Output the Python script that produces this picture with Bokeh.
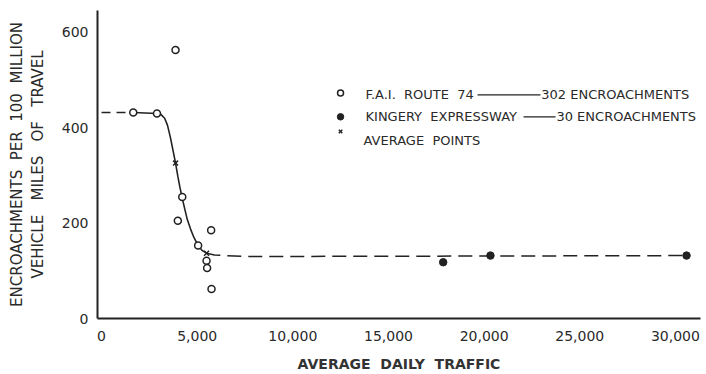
from bokeh.embed import file_html
from bokeh.models import FixedTicker, Label, LinearAxis, NumeralTickFormatter
from bokeh.plotting import figure
from bokeh.resources import INLINE

# F.A.I. Route 74 observations (average daily traffic, encroachments per 100 MVM)
fai_traffic = [1660, 2900, 3870, 4220, 3990, 5730, 5050, 5490, 5520, 5750]
fai_rate = [432, 430, 563, 255, 205, 185, 153, 121, 106, 62]

# Kingery Expressway observations
kingery_traffic = [17860, 20330, 30580]
kingery_rate = [118, 132, 132]

# Average points
avg_traffic = [3870, 5490]
avg_rate = [326, 137]

# Fitted curve: dashed extension on the left, solid fitted part, dashed tail
curve_left_x = [0, 1660]
curve_left_y = [432, 432]
curve_mid_x = [1660, 2900, 3100, 3300, 3450, 3600, 3750, 3870, 3990, 4100,
               4220, 4350, 4480, 4650, 4830, 5050, 5250, 5490]
curve_mid_y = [432, 430, 428, 420, 405, 380, 350, 326, 298, 275,
               252, 230, 208, 188, 170, 153, 143, 137]
curve_right_x = [5490, 5900, 7500, 20330, 30580]
curve_right_y = [137, 133, 130, 131, 132]

x_ticks = [0, 5000, 10000, 15000, 20000, 25000, 30000]
y_ticks = [0, 200, 400, 600]

INK = "#222222"
TEXT = "#2a2a2a"
FONT = "DejaVu Sans"
SP = "\u00a0\u00a0"  # wide word gap that survives SVG whitespace collapsing
SP3 = "\u00a0\u00a0\u00a0"

p = figure(
    width=706, height=374,
    x_range=(-210, 31310), y_range=(0, 646),
    output_backend="svg", toolbar_location=None,
    min_border_left=97, min_border_right=6,
    min_border_top=10, min_border_bottom=55,
    background_fill_color="white", border_fill_color="white",
)
p.outline_line_color = None
p.grid.visible = False

# axes
for ax in (p.xaxis[0], p.yaxis[0]):
    ax.axis_line_color = INK
    ax.axis_line_width = 2
    ax.major_tick_line_color = None
    ax.minor_tick_line_color = None
    ax.major_label_text_font = FONT
    ax.major_label_text_font_size = "14px"
    ax.major_label_text_color = TEXT

p.xaxis.ticker = FixedTicker(ticks=x_ticks)
p.xaxis.formatter = NumeralTickFormatter(format="0,0")
p.xaxis.major_label_standoff = 6
p.xaxis.axis_label = "AVERAGE" + SP + "DAILY" + SP + "TRAFFIC"
p.xaxis.axis_label_text_font = FONT
p.xaxis.axis_label_text_font_size = "14px"
p.xaxis.axis_label_text_font_style = "bold"
p.xaxis.axis_label_text_color = "#333333"
p.xaxis.axis_label_standoff = 12

p.yaxis.ticker = FixedTicker(ticks=y_ticks)
p.yaxis.major_label_standoff = 3
p.yaxis.axis_label = "VEHICLE" + SP3 + "MILES" + SP3 + "OF" + SP3 + "TRAVEL"
p.yaxis.axis_label_text_font = FONT
p.yaxis.axis_label_text_font_size = "15px"
p.yaxis.axis_label_text_font_style = "normal"
p.yaxis.axis_label_text_color = TEXT
p.yaxis.axis_label_standoff = 12

# outer line of the vertical title, carried by a bare axis
title_axis = LinearAxis(
    ticker=FixedTicker(ticks=[]),
    axis_line_color=None,
    major_tick_line_color=None,
    minor_tick_line_color=None,
    major_label_text_font_size="0px",
    axis_label="ENCROACHMENTS" + SP + "PER" + SP + "100" + SP + "MILLION",
    axis_label_text_font=FONT,
    axis_label_text_font_size="15px",
    axis_label_text_font_style="normal",
    axis_label_text_color=TEXT,
    axis_label_standoff=0,
)
p.add_layout(title_axis, "left")

# fitted curve
p.line(curve_left_x, curve_left_y, line_color=INK, line_width=1.4, line_dash="9 6")
p.line(curve_mid_x, curve_mid_y, line_color=INK, line_width=1.6)
p.line(curve_right_x, curve_right_y, line_color=INK, line_width=1.5, line_dash="14 7")

# observations
p.scatter(fai_traffic, fai_rate, marker="circle", size=7, fill_color="white",
          line_color=INK, line_width=1.5)
p.scatter(kingery_traffic, kingery_rate, marker="circle", size=7.5,
          fill_color=INK, line_color=INK)
p.scatter(avg_traffic, avg_rate, marker="x", size=7, line_color=INK, line_width=1.5)

# key
key_x = 12494
p.scatter([key_x], [473], marker="circle", size=6, fill_color="white",
          line_color=INK, line_width=1.5)
p.scatter([key_x], [423], marker="circle", size=6.5, fill_color=INK, line_color=INK)
p.scatter([key_x], [392], marker="x", size=5, line_color=INK, line_width=1.4)


def key_text(x, y, s):
    p.add_layout(Label(x=x, y=y, text=s, text_font=FONT, text_font_size="13px",
                       text_color=TEXT, text_align="left", text_baseline="middle"))


key_text(13800, 469, "F.A.I." + SP + "ROUTE" + SP + "74")
p.line([19655, 22948], [469, 469], line_color=INK, line_width=1.3)
key_text(22990, 469, "302 ENCROACHMENTS")
key_text(13800, 423, "KINGERY" + SP + "EXPRESSWAY")
p.line([22060, 23732], [423, 423], line_color=INK, line_width=1.3)
key_text(23780, 423, "30 ENCROACHMENTS")
key_text(13696, 374, "AVERAGE" + SP + "POINTS")

open("out.html", "w").write(file_html(p, INLINE))
